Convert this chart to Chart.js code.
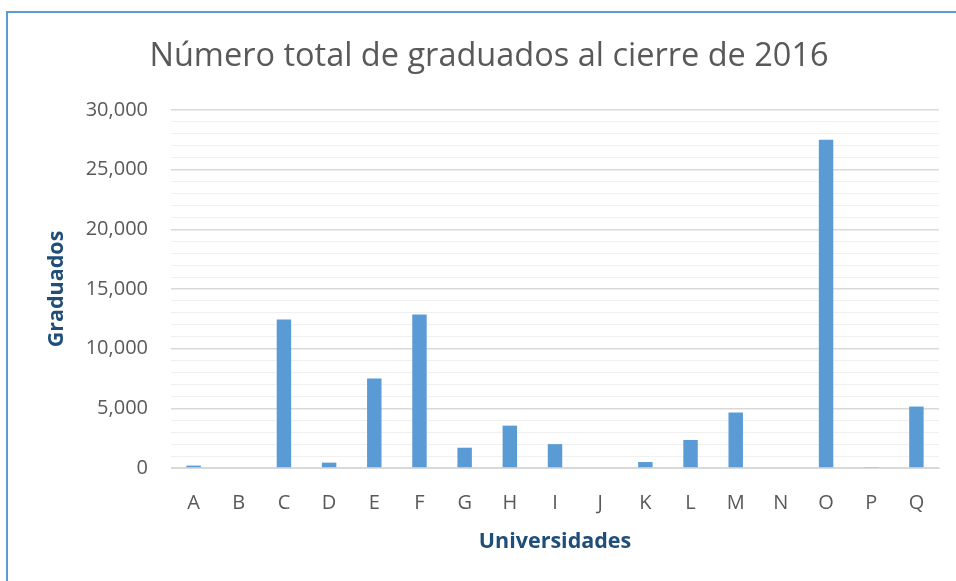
<!DOCTYPE html>
<html>
<head>
<meta charset="utf-8">
<script src="https://cdn.jsdelivr.net/npm/chart.js@4"></script>
<style>
  html, body { margin: 0; padding: 0; background: #fff; overflow: hidden; }
  #wrap { position: relative; width: 956px; height: 581px; }
  #frame {
    position: absolute; left: 6px; top: 11px; width: 980px; height: 620px;
    border: 2px solid #5b9bd5; box-sizing: border-box;
  }
  canvas { position: absolute; left: 0; top: 0; }
</style>
</head>
<body>
<div id="wrap">
  <div id="frame"></div>
  <canvas id="chart" width="956" height="581"></canvas>
</div>
<script>
const universidades = ['A', 'B', 'C', 'D', 'E', 'F', 'G', 'H', 'I', 'J', 'K', 'L', 'M', 'N', 'O', 'P', 'Q'];
const graduados = [200, 0, 12450, 450, 7500, 12870, 1700, 3550, 2000, 0, 500, 2350, 4650, 0, 27500, 80, 5150];

const BAR = '#5b9bd5';
const TEXT = '#595959';
const AXIS_TITLE = '#1f4e79';
const FONT = "'Open Sans', 'Noto Sans', sans-serif";

new Chart(document.getElementById('chart').getContext('2d'), {
  type: 'bar',
  data: {
    labels: universidades,
    datasets: [{
      label: 'Graduados',
      data: graduados,
      backgroundColor: BAR,
      borderWidth: 0,
      barPercentage: 0.32,
      categoryPercentage: 1,
    }]
  },
  options: {
    responsive: false,
    animation: false,
    // left/right padding keeps the plot at 171..939 and centres the title near x=489
    layout: { padding: { left: 39, right: 17, top: 0, bottom: 0 } },
    plugins: {
      legend: { display: false },
      tooltip: { enabled: false },
      title: {
        display: true,
        text: 'Número total de graduados al cierre de 2016',
        color: TEXT,
        font: { family: FONT, size: 32.5, weight: 'normal' },
        padding: { top: 37, bottom: 34 },
      }
    },
    scales: {
      x: {
        grid: { display: false },
        border: { display: true, color: '#d9d9d9', width: 1 },
        ticks: { color: TEXT, font: { family: FONT, size: 20 }, padding: 15 },
        title: {
          display: true,
          text: 'Universidades',
          color: AXIS_TITLE,
          font: { family: FONT, size: 21.5, weight: 'bold' },
          padding: { top: 0, bottom: 26 },
        },
        afterFit: s => { s.height = 113; },
      },
      y: {
        min: 0,
        max: 30000,
        border: { display: false },
        grid: {
          drawTicks: false,
          color: c => (c.tick.value % 5000 === 0 ? '#d9d9d9' : '#f0f0f0'),
          lineWidth: c => (c.tick.value % 5000 === 0 ? 1.5 : 1),
        },
        ticks: {
          stepSize: 1000,
          autoSkip: false,
          color: TEXT,
          font: { family: FONT, size: 20 },
          padding: 23,
          callback: v => (v % 5000 === 0 ? v.toLocaleString('en-US') : ''),
        },
        title: {
          display: true,
          text: 'Graduados',
          color: AXIS_TITLE,
          font: { family: FONT, size: 21.5, weight: 'bold' },
          padding: { top: 5, bottom: 0 },
        },
        afterFit: s => { s.width = 132; },
      }
    }
  }
});
</script>
</body>
</html>
